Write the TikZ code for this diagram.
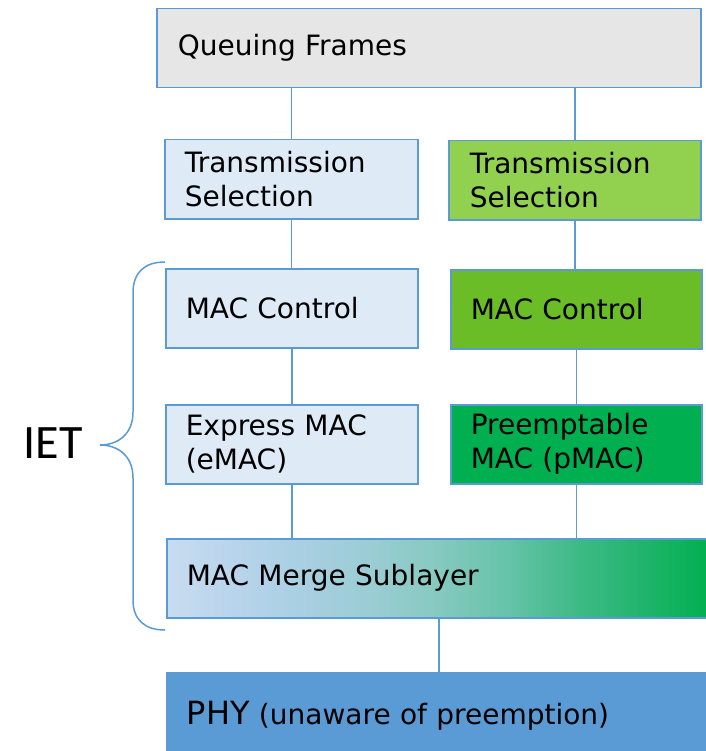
\documentclass[tikz,border=0pt]{standalone}
\usepackage{fontspec}
\setmainfont{DejaVu Sans}
\newfontfamily\ietfont{Carlito}
\definecolor{bl}{HTML}{5B9BD5}
\definecolor{lbfill}{HTML}{DEEAF6}
\definecolor{grayfill}{HTML}{E6E6E6}
\definecolor{tsgreen}{HTML}{92D050}
\definecolor{mcgreen}{HTML}{6ABD27}
\definecolor{pmgreen}{HTML}{00B050}
\definecolor{mg0}{HTML}{C8DCF0}
\definecolor{mg1}{HTML}{B8D4EC}
\definecolor{mg2}{HTML}{A8CFE2}
\definecolor{mg3}{HTML}{9ACDD4}
\definecolor{mg4}{HTML}{86C9C0}
\definecolor{mg5}{HTML}{66C3A8}
\definecolor{mg6}{HTML}{40BA88}
\definecolor{mg7}{HTML}{20B46C}
\definecolor{mg8}{HTML}{00B050}
\pgfdeclarehorizontalshading{mergeshade}{100bp}{color(0bp)=(mg0); color(25bp)=(mg0); color(31.25bp)=(mg1); color(37.5bp)=(mg2); color(43.75bp)=(mg3); color(50bp)=(mg4); color(56.25bp)=(mg5); color(62.5bp)=(mg6); color(68.75bp)=(mg7); color(75bp)=(mg8); color(100bp)=(mg8)}
\begin{document}
\begin{tikzpicture}[x=1pt,y=-1pt,
  layer/.style={draw=bl, line width=1.5pt, rectangle, anchor=north west,
    minimum height=79pt, inner ysep=0pt, align=left,
    font=\fontsize{28}{34}\selectfont},
  conn/.style={draw=bl, line width=1.5pt}]
\useasboundingbox (0,0) rectangle (705,751);
\node[layer, fill=grayfill, inner xsep=21pt, text width=502pt] (qf) at (156,8) {Queuing Frames};
\node[layer, fill=lbfill, inner xsep=20pt, text width=213pt] (tsl) at (164,139) {Transmission\\Selection};
\node[layer, fill=tsgreen, inner xsep=21pt, text width=210pt] (tsr) at (448,140) {Transmission\\Selection};
\node[layer, fill=lbfill, inner xsep=20pt, text width=212pt] (mcl) at (165,268) {MAC Control};
\node[layer, fill=mcgreen, inner xsep=20pt, text width=211pt] (mcr) at (450,269) {MAC Control};
\node[layer, fill=lbfill, inner xsep=20pt, text width=212pt] (eml) at (165,404) {Express MAC\\(eMAC)};
\node[layer, fill=pmgreen, inner xsep=20pt, text width=211pt] (pmr) at (450,404) {Preemptable\\MAC (pMAC)};
\node[layer, shading=mergeshade, inner xsep=20pt, text width=504pt] (merge) at (166,538) {MAC Merge Sublayer};
\node[layer, fill=bl, inner xsep=20pt, text width=504pt, minimum height=86pt] (phy) at (166,672) {{\fontsize{32}{36}\selectfont PHY} (unaware of preemption)};
\path[conn] (qf.south -| tsl.north) -- (tsl.north);
\path[conn] (qf.south -| tsr.north) -- (tsr.north);
\path[conn] (tsl.south) -- (tsl.south |- mcl.north);
\path[conn] (tsr.south) -- (tsr.south |- mcr.north);
\path[conn] (mcl.south) -- (eml.north);
\path[conn] (mcr.south) -- (pmr.north);
\path[conn] (eml.south) -- (merge.north -| eml.south);
\path[conn] (pmr.south) -- (merge.north -| pmr.south);
\path[conn] (merge.south) -- (phy.north);
\coordinate (btop) at (165,262);
\coordinate (bbot) at (165,630);
\coordinate (btip) at (100,445);
\draw[bl, line width=1.5pt] (btop) .. controls (145,262) and (133,272) .. (133,293) -- (133,412)
  .. controls (133,435) and (117,445) .. (btip)
  .. controls (117,445) and (133,455) .. (133,478) -- (133,600)
  .. controls (133,620) and (145,630) .. (bbot);
\node[font=\ietfont\fontsize{48}{50}\selectfont, anchor=center, inner sep=0pt] (iet) at (53,443) {IET};
\end{tikzpicture}
\end{document}
